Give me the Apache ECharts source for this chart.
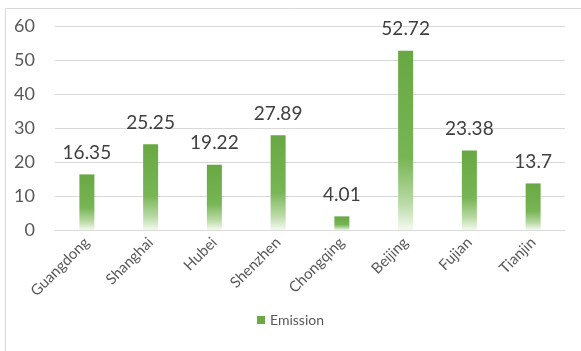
<!DOCTYPE html>
<html><head><meta charset="utf-8">
<script src="https://cdn.jsdelivr.net/npm/echarts@6/dist/echarts.min.js"></script>
<style>html,body{margin:0;padding:0;background:#fff}#c{width:581px;height:351px}</style>
</head><body><div id="c"></div>
<script>
const categories = ["Guangdong","Shanghai","Hubei","Shenzhen","Chongqing","Beijing","Fujian","Tianjin"];
const emission = [16.35, 25.25, 19.22, 27.89, 4.01, 52.72, 23.38, 13.7];
const seriesName = "Emission";
const yTicks = [0, 60, 10];

const chart = echarts.init(document.getElementById('c'), null, {renderer:'canvas'});
const grad = new echarts.graphic.LinearGradient(0,0,0,1,[
  {offset:0,color:'#68a843'},{offset:0.6,color:'#78b555'},{offset:0.85,color:'#b9daa6'},{offset:1,color:'#f4faf0'}]);
chart.setOption({
  animation:false,
  textStyle:{fontFamily:'Lato'},
  graphic:[{type:'rect',shape:{x:5.5,y:8.5,width:700,height:500},style:{fill:'none',stroke:'#d9d9d9',lineWidth:1},silent:true}],
  grid:{left:55,right:16,top:26,bottom:121,containLabel:false},
  legend:{bottom:19,left:'center',itemWidth:8,itemHeight:8,icon:'rect',
    textStyle:{color:'#595959',fontSize:14,fontFamily:'Lato'},itemGap:4,
    data:[{name:seriesName,itemStyle:{color:'#6aaa45'}}]},
  xAxis:{type:'category',data:categories,
    axisLine:{lineStyle:{color:'#d9d9d9'}},axisTick:{show:false},
    axisLabel:{rotate:45,color:'#595959',fontSize:15,margin:10,interval:0}},
  yAxis:{type:'value',min:yTicks[0],max:yTicks[1],interval:yTicks[2],
    axisLine:{show:false},axisTick:{show:false},
    splitLine:{lineStyle:{color:'#d9d9d9'}},
    axisLabel:{color:'#595959',fontSize:18,margin:20}},
  series:[{name:seriesName,type:'bar',data:emission,barWidth:15,
    itemStyle:{color:grad},
    label:{show:true,position:'top',distance:12,color:'#404040',fontSize:19}}]
});
</script></body></html>
